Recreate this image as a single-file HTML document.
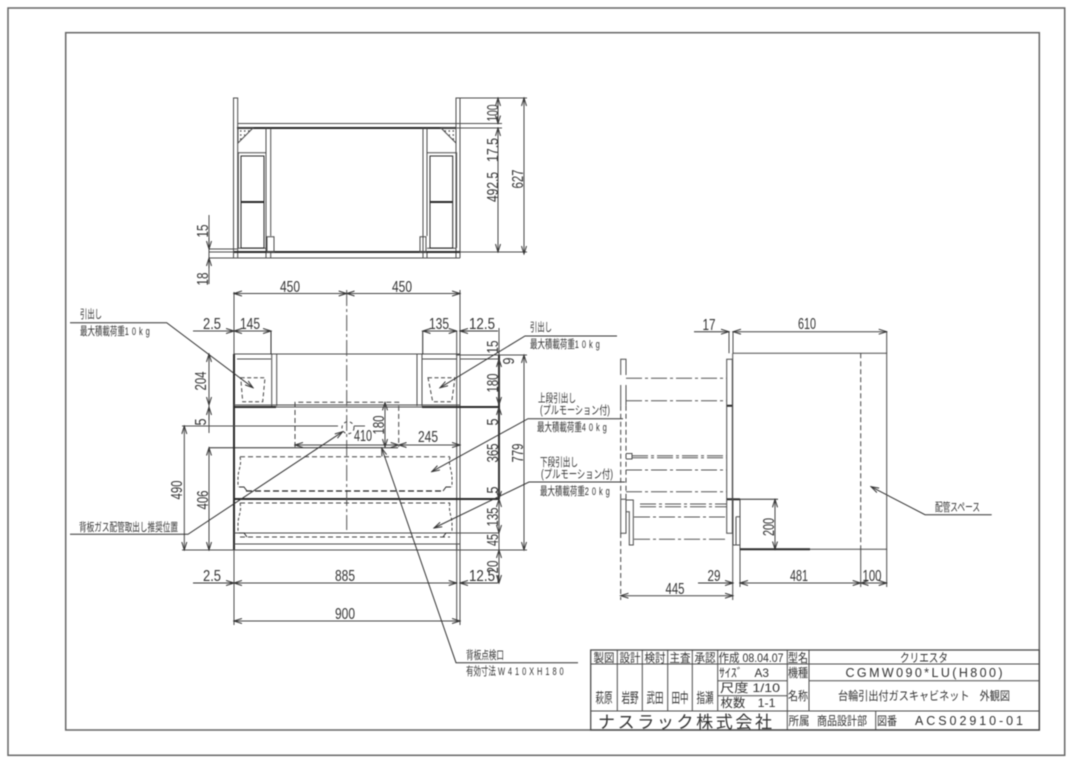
<!DOCTYPE html>
<html lang="ja"><head><meta charset="utf-8"><title>外観図</title>
<style>
html,body{margin:0;padding:0;background:#fff}
svg{display:block;font-family:"Liberation Sans","Noto Sans CJK JP",sans-serif;filter:blur(.4px)}
.l{fill:none;stroke:#4c4c4c;stroke-width:1}
.k{fill:none;stroke:#2a2a2a;stroke-width:1}
.h{fill:none;stroke:#2a2a2a;stroke-width:2}
.b{fill:none;stroke:#666;stroke-width:1.5}
.d{fill:none;stroke:#444;stroke-width:1;stroke-dasharray:5 3}
.dk{fill:none;stroke:#222;stroke-width:1.3;stroke-dasharray:6 3}
.c{fill:none;stroke:#555;stroke-width:1;stroke-dasharray:16 3 3 3}
.a{fill:none;stroke:#444;stroke-width:1;marker-start:url(#m);marker-end:url(#m)}
.e{fill:none;stroke:#333;stroke-width:1;marker-end:url(#m)}
text{fill:#333}
.n{font-size:15.5px;text-anchor:middle}
.t{font-size:11.5px}
.s{font-size:12px;text-anchor:middle}
.kg{letter-spacing:4.5px}
</style></head><body>
<svg width="1080" height="764" viewBox="0 0 1080 764" xmlns="http://www.w3.org/2000/svg">
<defs>
<marker id="m" markerWidth="9" markerHeight="7" refX="8" refY="3" orient="auto-start-reverse" markerUnits="userSpaceOnUse"><path d="M0 .5L8 3L0 5.5" fill="none" stroke="#333" stroke-width="1"/></marker>
</defs>
<rect width="1080" height="764" fill="#fff"/>
<rect x="8" y="8" width="1056.7" height="747.3" class="b"/>
<rect x="65.7" y="32.7" width="973.6" height="697.3" class="b"/>

<!-- top view -->
<g>
<path class="l" d="M233.5 258V98H237.7V258M456 258V98H460V258"/>
<path class="l" d="M237.7 123.5H456"/><path class="h" d="M237 128H456"/>
<path class="l" d="M266 128V258M270.7 128V236M423 128V258M427 128V236M270.7 252V258M427 252V258"/>
<path class="l" d="M234 258H460M237 248.3H266M427 248.3H456"/><path class="h" d="M234 252H460"/>
<path class="l" d="M238.3 248V152.7H266M456.6 248V152.7H427"/>
<rect x="241" y="156" width="23" height="92" class="k"/><rect x="430" y="156" width="22.7" height="92" class="k"/>
<path class="h" d="M241 202H264M430 202H452.7"/>
<path class="l" d="M267 252V236.700H274V252ZM420 252V236.700H426V252Z"/>
<path class="l" d="M238 128H253L238 143ZM456 128H441L456 143Z"/>
<path class="d" style="stroke-dasharray:1.5 2.500;stroke-width:1.300" d="M240 131H250M240 135H245M240 139H241.500M454 131H444M454 135H449M454 139H452.500"/>
<path class="l" d="M460 98H527M456 123.500H502M456 128H502M460 252H527M237 249H209M234 252H209M234 258H209"/>
<path class="a" d="M498 98V123.500"/><path class="a" d="M498 128V252"/><path class="a" d="M524 98V254"/>
<path class="l" d="M209 215V284"/>
<path class="e" d="M209 238V249"/><path class="e" d="M209 268V258"/>
<text class="n" transform="translate(498 113) rotate(-90)" textLength="17" lengthAdjust="spacingAndGlyphs">100</text>
<text class="n" transform="translate(498 150) rotate(-90)" textLength="24" lengthAdjust="spacingAndGlyphs">17.5</text>
<text class="n" transform="translate(498 187) rotate(-90)" textLength="30" lengthAdjust="spacingAndGlyphs">492.5</text>
<text class="n" transform="translate(523 179) rotate(-90)" textLength="19" lengthAdjust="spacingAndGlyphs">627</text>
<text class="n" transform="translate(208 231) rotate(-90)" textLength="13" lengthAdjust="spacingAndGlyphs">15</text>
<text class="n" transform="translate(208 279) rotate(-90)" textLength="13" lengthAdjust="spacingAndGlyphs">18</text>
</g>

<!-- front view -->
<g>
<path class="h" d="M234 354V550"/><path class="l" d="M234 292V354M234 550V625M460 290V354M460 550V625"/>
<path class="l" d="M456.700 331V620M460 354V550"/>
<path class="l" d="M234 354H460M237 359H271M422 359H456.700M276.700 354V406M271.700 354V406M417 354V406M422 354V406"/>
<path class="k" d="M271 331V354M422.700 331V354"/>
<path class="l" d="M234 405H460"/><path class="h" d="M234 407H276M422 407H499"/><path class="l" d="M276 407H422"/>
<path class="h" d="M234 499H499"/>
<path class="l" d="M234 533H499M234 544H460M182 550H499M456.700 544V550"/>
<path class="c" d="M346.700 290V530"/>
<path class="d" d="M295 447V402.300H398.700V447"/>
<path class="d" d="M240 456.700H450M240 503H450M240 537H450"/>
<path class="dk" d="M246 491H444"/>
<path class="d" style="stroke-dasharray:3 2" d="M240 457C242 465 238 470 238 478V487M450 457C448 465 452 470 452 478V487M240 503C242 511 238 516 238 524V533M450 503C448 511 452 516 452 524V533"/>
<path class="k" d="M239 487H244L247 491M451 487H446L443 491M239 533H244L247 537M451 533H446L443 537"/>
<path class="d" style="stroke-dasharray:4 2.500" d="M240.700 377.700H265L262.700 401.700H242.700ZM428 377.700H455L451.700 401.700H432.700Z"/>
<circle cx="348" cy="427.700" r="6" class="d" style="stroke-dasharray:3 3"/>
<path class="l" d="M182 426H338M354 426H365"/>
<path class="k" d="M209 447.700H398"/>
<path class="a" d="M193 331H234" style="marker-start:none"/><path class="a" d="M234 331H271"/>
<path class="a" d="M422.700 331H456.700"/><path class="e" d="M498 331H460"/>
<path class="a" d="M234 293.500H346.700"/><path class="a" d="M346.700 293.500H460"/>
<path class="e" d="M193 583H234"/><path class="a" d="M234 583H456.700"/><path class="e" d="M498 583H460"/><path class="l" d="M498 583V575"/>
<path class="a" d="M234 621H460"/>
<path class="a" d="M209 354V405"/><path class="l" d="M209 405V433"/><path class="e" d="M209 420V407"/>
<path class="a" d="M209 447.700V550"/><path class="a" d="M184.300 426V550"/>
<path class="a" d="M295 445H398.700"/><path class="a" d="M398.700 445H460"/><path class="a" d="M385 402.300V447"/>
<path class="l" d="M499 328V355"/><path class="h" d="M499 355V499"/><path class="l" d="M499 499V583"/>
<path class="l" d="M456 355H499M460 359H499"/>
<path class="a" d="M499 359V405"/><path class="a" d="M499 407V499"/><path class="a" d="M499 499V533"/><path class="a" d="M499 550V583"/>
<path class="a" d="M524 355V550"/><path class="l" d="M460 355H527M499 550H527"/>
<text class="n" x="290" y="292" textLength="20" lengthAdjust="spacingAndGlyphs">450</text>
<text class="n" x="402" y="292" textLength="20" lengthAdjust="spacingAndGlyphs">450</text>
<text class="n" x="212" y="329" textLength="18" lengthAdjust="spacingAndGlyphs">2.5</text>
<text class="n" x="250" y="329" textLength="20" lengthAdjust="spacingAndGlyphs">145</text>
<text class="n" x="439" y="329" textLength="20" lengthAdjust="spacingAndGlyphs">135</text>
<text class="n" x="482" y="329" textLength="26" lengthAdjust="spacingAndGlyphs">12.5</text>
<text class="n" x="212" y="581" textLength="18" lengthAdjust="spacingAndGlyphs">2.5</text>
<text class="n" x="345" y="581" textLength="20" lengthAdjust="spacingAndGlyphs">885</text>
<text class="n" x="482" y="581" textLength="26" lengthAdjust="spacingAndGlyphs">12.5</text>
<text class="n" x="345" y="619" textLength="20" lengthAdjust="spacingAndGlyphs">900</text>
<text class="n" x="363" y="441" textLength="18" lengthAdjust="spacingAndGlyphs">410</text>
<text class="n" x="428" y="442" textLength="20" lengthAdjust="spacingAndGlyphs">245</text>
<text class="n" transform="translate(384 425) rotate(-90)" textLength="19" lengthAdjust="spacingAndGlyphs">180</text>
<text class="n" transform="translate(206 381) rotate(-90)" textLength="19" lengthAdjust="spacingAndGlyphs">204</text>
<text class="n" transform="translate(206 422) rotate(-90)" textLength="7" lengthAdjust="spacingAndGlyphs">5</text>
<text class="n" transform="translate(182 490) rotate(-90)" textLength="19" lengthAdjust="spacingAndGlyphs">490</text>
<text class="n" transform="translate(208 500) rotate(-90)" textLength="19" lengthAdjust="spacingAndGlyphs">406</text>
<text class="n" transform="translate(498 347) rotate(-90)" textLength="13" lengthAdjust="spacingAndGlyphs">15</text>
<text class="n" transform="translate(514 361) rotate(-90)" textLength="7" lengthAdjust="spacingAndGlyphs">9</text>
<text class="n" transform="translate(498 383) rotate(-90)" textLength="19" lengthAdjust="spacingAndGlyphs">180</text>
<text class="n" transform="translate(498 422) rotate(-90)" textLength="7" lengthAdjust="spacingAndGlyphs">5</text>
<text class="n" transform="translate(498 453) rotate(-90)" textLength="19" lengthAdjust="spacingAndGlyphs">365</text>
<text class="n" transform="translate(498 490) rotate(-90)" textLength="7" lengthAdjust="spacingAndGlyphs">5</text>
<text class="n" transform="translate(498 517) rotate(-90)" textLength="19" lengthAdjust="spacingAndGlyphs">135</text>
<text class="n" transform="translate(498 540) rotate(-90)" textLength="12" lengthAdjust="spacingAndGlyphs">45</text>
<text class="n" transform="translate(498 567) rotate(-90)" textLength="13" lengthAdjust="spacingAndGlyphs">20</text>
<text class="n" transform="translate(523 453) rotate(-90)" textLength="19" lengthAdjust="spacingAndGlyphs">779</text>
</g>

<!-- leaders -->
<g>
<path class="e" d="M70 322.700H166.700L253 387.700"/>
<path class="e" d="M70 534.300H188L342.700 431.700"/>
<path class="e" d="M617 336H525L440 387.700"/>
<path class="e" d="M623 418.700H528L431.700 471.700"/>
<path class="e" d="M625 482H529L434 528"/>
<path class="e" d="M578 662.700H456L381.700 448"/>
<path class="e" d="M991.700 514.700H925L871 486.700"/>
<text class="t" x="80" y="318" textLength="22" lengthAdjust="spacingAndGlyphs">引出し</text>
<text class="t" transform="translate(80 335) scale(.65 1)">最大積載荷重<tspan class="kg">10kg</tspan></text>
<text class="t" x="79" y="531" textLength="99" lengthAdjust="spacingAndGlyphs">背板ガス配管取出し推奨位置</text>
<text class="t" x="530" y="331" textLength="22" lengthAdjust="spacingAndGlyphs">引出し</text>
<text class="t" transform="translate(530 348) scale(.65 1)">最大積載荷重<tspan class="kg">10kg</tspan></text>
<text class="t" x="538" y="402" textLength="38" lengthAdjust="spacingAndGlyphs">上段引出し</text>
<text class="t" x="540" y="414" textLength="70" lengthAdjust="spacingAndGlyphs">(プルモーション付)</text>
<text class="t" transform="translate(537 431) scale(.65 1)">最大積載荷重<tspan class="kg">40kg</tspan></text>
<text class="t" x="540" y="466" textLength="38" lengthAdjust="spacingAndGlyphs">下段引出し</text>
<text class="t" x="541" y="478" textLength="72" lengthAdjust="spacingAndGlyphs">(プルモーション付)</text>
<text class="t" transform="translate(540 495) scale(.65 1)">最大積載荷重<tspan class="kg">20kg</tspan></text>
<text class="t" x="466" y="659" textLength="38" lengthAdjust="spacingAndGlyphs">背板点検口</text>
<text class="t" transform="translate(466 675) scale(.65 1)">有効寸法 <tspan class="kg">W410XH180</tspan></text>
<text class="t" x="935" y="511" textLength="45" lengthAdjust="spacingAndGlyphs">配管スペース</text>
</g>

<!-- side view -->
<g>
<path class="l" d="M726.700 405.700V359.300H732.300V405.700M726.700 405.700H732.300V499.300H726.700ZM726.700 499.300H732.300V533.300H726.700Z"/>
<path class="h" d="M727 405.700H732M727 499.300H732"/>
<path class="l" d="M620.700 375V359.300H626V375M620.700 385V405.700M626 385V405.700M620.700 499.300H626V533.300H620.700Z"/>
<path class="d" d="M620.700 405.700V499M626 405.700V499M620.700 533V600"/>
<path class="c" d="M626 378.300H727M626 400.700H727M632 455.700H727M632 457.700H727M626 470H727M626 491.700H727M640 504H727M640 506.700H727M634 517H727M634 539.300H727"/>
<path class="l" d="M626 453.500H632V459H626M626 500H633.300V545H629.300V511.700H626M736 516.700H740M736 516.700V545H740"/>
<path class="l" d="M729 332V353.300M733 332V353.300"/>
<path class="l" d="M732.700 353.300H886.700V549.300H740M732.700 353.300V600M732.300 499.300"/>
<path class="h" d="M733 499.300H740"/><path class="l" d="M740 499.300V587M733 499.300V545H740"/>
<path class="h" d="M740 549.300H810"/>
<path class="k" d="M740 499.300H778"/>
<path class="d" d="M860.700 353.300V549.300"/>
<path class="l" d="M860.700 549.300V587M886.700 332V353.300M886.700 549.300V587"/>
<path class="a" d="M775 499.300V549.300"/>
<path class="e" d="M694 331.700H729"/><path class="a" d="M733 331.700H886.700"/>
<path class="e" d="M698 583H733"/><path class="a" d="M740 583H860.700"/><path class="a" d="M860.700 583H886.700"/>
<path class="a" d="M620.700 595.700H733"/>
<text class="n" x="709" y="330" textLength="13" lengthAdjust="spacingAndGlyphs">17</text>
<text class="n" x="807" y="329" textLength="18" lengthAdjust="spacingAndGlyphs">610</text>
<text class="n" x="714" y="581" textLength="13" lengthAdjust="spacingAndGlyphs">29</text>
<text class="n" x="799" y="581" textLength="18" lengthAdjust="spacingAndGlyphs">481</text>
<text class="n" x="872" y="581" textLength="19" lengthAdjust="spacingAndGlyphs">100</text>
<text class="n" x="675" y="594" textLength="19" lengthAdjust="spacingAndGlyphs">445</text>
<text class="n" transform="translate(774 527) rotate(-90)" textLength="18" lengthAdjust="spacingAndGlyphs">200</text>
</g>

<!-- title block -->
<g>
<rect x="590.700" y="650" width="448.600" height="80" class="l" style="stroke-width:1.3"/>
<path class="l" d="M590.700 664H1039.300M590.700 711H1039.300M809 680.700H1039.300M717.700 680.700H787.300M717.700 695.700H787.300"/>
<path class="l" d="M617.300 650V711M642.300 650V711M667.700 650V711M692.300 650V711M717.700 650V711M787.300 650V730M809 650V711M875.700 711V730"/>
<text class="s" x="604" y="662" textLength="21" lengthAdjust="spacingAndGlyphs">製図</text>
<text class="s" x="630" y="662" textLength="21" lengthAdjust="spacingAndGlyphs">設計</text>
<text class="s" x="655" y="662" textLength="21" lengthAdjust="spacingAndGlyphs">検討</text>
<text class="s" x="680" y="662" textLength="21" lengthAdjust="spacingAndGlyphs">主査</text>
<text class="s" x="705" y="662" textLength="21" lengthAdjust="spacingAndGlyphs">承認</text>
<text class="s" x="604" y="703" textLength="17" lengthAdjust="spacingAndGlyphs" style="font-size:14px">萩原</text>
<text class="s" x="630" y="703" textLength="17" lengthAdjust="spacingAndGlyphs" style="font-size:14px">岩野</text>
<text class="s" x="655" y="703" textLength="17" lengthAdjust="spacingAndGlyphs" style="font-size:14px">武田</text>
<text class="s" x="680" y="703" textLength="17" lengthAdjust="spacingAndGlyphs" style="font-size:14px">田中</text>
<text class="s" x="705" y="703" textLength="17" lengthAdjust="spacingAndGlyphs" style="font-size:14px">指瀬</text>
<text class="s" x="751" y="662" textLength="65" lengthAdjust="spacingAndGlyphs">作成 08.04.07</text>
<text class="s" x="744" y="677" textLength="50" lengthAdjust="spacingAndGlyphs">ｻｲｽﾞ　A3</text>
<text class="s" x="750" y="692" textLength="60" lengthAdjust="spacingAndGlyphs">尺度 1/10</text>
<text class="s" x="748" y="707" textLength="55" lengthAdjust="spacingAndGlyphs">枚数　1-1</text>
<text class="s" x="798" y="662" textLength="20" lengthAdjust="spacingAndGlyphs">型名</text>
<text class="s" x="798" y="677" textLength="20" lengthAdjust="spacingAndGlyphs">機種</text>
<text class="s" x="798" y="700" textLength="20" lengthAdjust="spacingAndGlyphs">名称</text>
<text class="s" x="924" y="662" textLength="48" lengthAdjust="spacingAndGlyphs">クリエスタ</text>
<text class="s" x="924" y="677" textLength="157" style="font-size:12.5px">CGMW090*LU(H800)</text>
<text class="s" x="924" y="700" textLength="172" lengthAdjust="spacingAndGlyphs">台輪引出付ガスキャビネット　外観図</text>
<text class="s" x="799" y="725" textLength="21" lengthAdjust="spacingAndGlyphs">所属</text>
<text class="s" x="842" y="725" textLength="50" lengthAdjust="spacingAndGlyphs">商品設計部</text>
<text class="s" x="887" y="725" textLength="20" lengthAdjust="spacingAndGlyphs">図番</text>
<text class="s" x="969" y="725" textLength="108" style="font-size:12.5px">ACS02910-01</text>
<text x="685" y="728" text-anchor="middle" textLength="174" style="font-size:17px">ナスラック株式会社</text>
</g>
</svg>
</body></html>
